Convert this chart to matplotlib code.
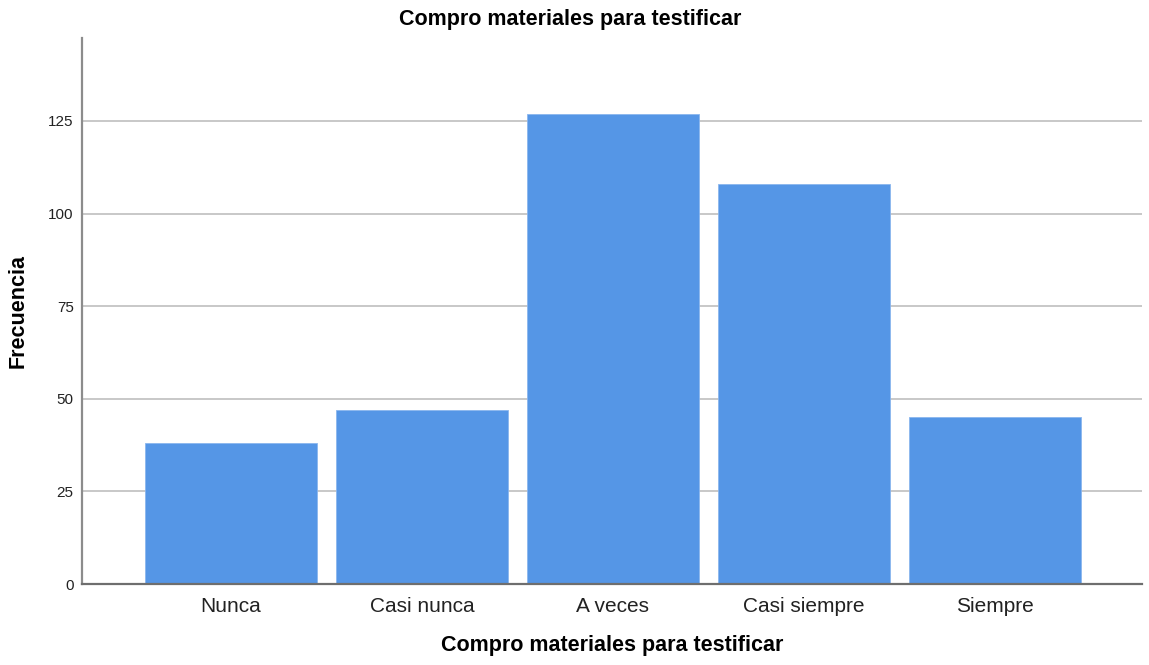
import numpy as np
import matplotlib
matplotlib.use('Agg')
import matplotlib.pyplot as plt

plt.rcParams['font.family'] = ['Liberation Sans', 'DejaVu Sans']

categories = ['Nunca', 'Casi nunca', 'A veces', 'Casi siempre', 'Siempre']
frecuencia = [38, 47, 127, 108, 45]
yticks = [0, 25, 50, 75, 100, 125]

fig = plt.figure(figsize=(11.49, 6.65), dpi=100)
ax = fig.add_axes([0.0714, 0.1218, 0.9225, 0.8211])

x = np.arange(len(categories))
ax.bar(x, frecuencia, width=0.9, color='#5596E6', edgecolor='#8AB6EE',
       linewidth=0.6, zorder=3)

ax.set_xlim(-0.78, 4.77)
ax.set_ylim(0, 147.4)
ax.set_yticks(yticks)
ax.set_xticks(x)
ax.set_xticklabels(categories, fontsize=15, color='#222222')
ax.tick_params(axis='y', length=0, pad=6, labelsize=11, labelcolor='#222222')
ax.tick_params(axis='x', length=0, pad=9)
ax.grid(axis='y', color='#C8C8C8', linewidth=1.4, zorder=0)

for side in ['top', 'right']:
    ax.spines[side].set_visible(False)
ax.spines['left'].set_color('#8C8C8C')
ax.spines['bottom'].set_color('#6E6E6E')
ax.spines['left'].set_linewidth(1.6)
ax.spines['bottom'].set_linewidth(1.6)
ax.spines['left'].set_zorder(4)
ax.spines['bottom'].set_zorder(4)

# title sits centred on the figure, not on the axes
fig.text(0.496, 0.97, 'Compro materiales para testificar', fontsize=15.5,
         fontweight='bold', ha='center', va='center')
ax.set_xlabel('Compro materiales para testificar', fontsize=15.5,
              fontweight='bold', labelpad=14)
ax.set_ylabel('Frecuencia', fontsize=15.5, fontweight='bold', labelpad=14)

fig.savefig('out.png', dpi=100, facecolor='white')
